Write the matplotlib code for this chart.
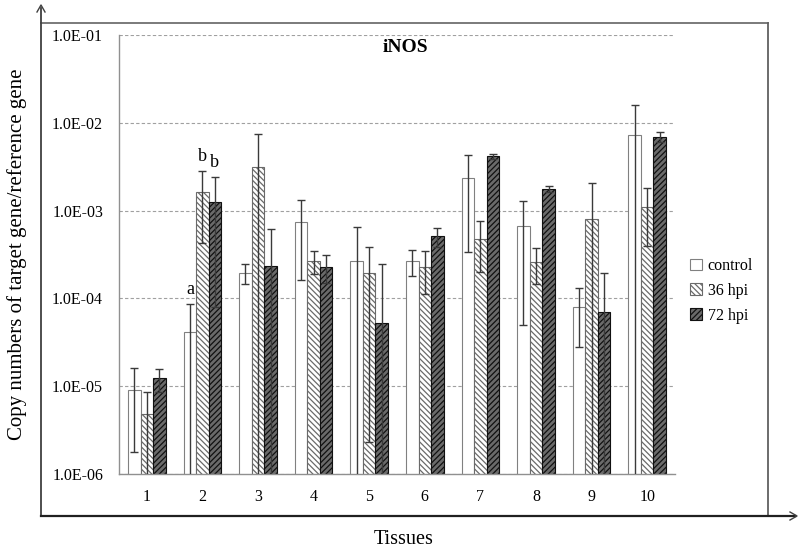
import matplotlib
matplotlib.use("Agg")
import matplotlib.pyplot as plt
import numpy as np
from matplotlib.lines import Line2D

plt.rcParams['font.family'] = ['Liberation Serif', 'DejaVu Serif']
plt.rcParams['hatch.linewidth'] = 0.9

tissues = ['1', '2', '3', '4', '5', '6', '7', '8', '9', '10']

control = [8.9e-6, 4.1e-5, 1.96e-4, 7.4e-4, 2.7e-4, 2.7e-4, 2.34e-3, 6.7e-4, 8.0e-5, 7.2e-3]
control_sd = [7.1e-6, 4.6e-5, 5.0e-5, 5.8e-4, 3.75e-4, 9.0e-5, 2.0e-3, 6.2e-4, 5.2e-5, 8.7e-3]

hpi36 = [4.7e-6, 1.64e-3, 3.1e-3, 2.68e-4, 1.96e-4, 2.3e-4, 4.8e-4, 2.63e-4, 8.0e-4, 1.1e-3]
hpi36_sd = [4.0e-6, 1.21e-3, 4.3e-3, 8.0e-5, 1.937e-4, 1.17e-4, 2.8e-4, 1.17e-4, 1.28e-3, 7.0e-4]

hpi72 = [1.22e-5, 1.26e-3, 2.34e-4, 2.3e-4, 5.25e-5, 5.1e-4, 4.17e-3, 1.76e-3, 7.0e-5, 6.9e-3]
hpi72_sd = [3.6e-6, 1.18e-3, 3.8e-4, 8.0e-5, 1.93e-4, 1.2e-4, 3.0e-4, 1.4e-4, 1.26e-4, 9.0e-4]

# significance letters: (tissue index, series index, letter)
letters = [(1, 0, 'a'), (1, 1, 'b'), (1, 2, 'b')]

fig = plt.figure(figsize=(8, 5.49), dpi=100)
ax = fig.add_axes([0.14875, 0.1366, 0.695, 0.7996])

x = np.arange(len(tissues))
w = 0.225
series = [
    ('control', control, control_sd, dict(facecolor='white', edgecolor='#808080', hatch=None)),
    ('36 hpi', hpi36, hpi36_sd, dict(facecolor='white', edgecolor='#6a6a6a', hatch='\\\\\\\\\\\\')),
    ('72 hpi', hpi72, hpi72_sd, dict(facecolor='#6a6a6a', edgecolor='#111111', hatch='//////')),
]

handles = []
for k, (name, vals, sd, st) in enumerate(series):
    pos = x + (k - 1) * w
    b = ax.bar(pos, vals, w, bottom=1e-7, linewidth=0.8, label=name, zorder=2, **st)
    handles.append(b)
    ax.errorbar(pos, vals, yerr=sd, fmt='none', ecolor='#3a3a3a', elinewidth=1,
                capsize=3, capthick=1, zorder=3)

all_vals = [control, hpi36, hpi72]
all_sd = [control_sd, hpi36_sd, hpi72_sd]
for ti, si, let in letters:
    top = all_vals[si][ti] + all_sd[si][ti]
    ax.annotate(let, xy=(x[ti] + (si - 1) * w, top), xytext=(0, 4),
                textcoords='offset points', ha='center', va='bottom', fontsize=13)

ax.set_yscale('log')
ax.set_ylim(1e-6, 1e-1)
ax.set_xlim(-0.5, 9.5)
ax.set_yticks([1e-6, 1e-5, 1e-4, 1e-3, 1e-2, 1e-1])
ax.set_yticklabels(['1.0E-06', '1.0E-05', '1.0E-04', '1.0E-03', '1.0E-02', '1.0E-01'])
ax.minorticks_off()
ax.set_xticks(x)
ax.set_xticklabels(tissues)
ax.tick_params(axis='x', length=0, pad=11, labelsize=11.5)
ax.tick_params(axis='y', length=0, pad=11.5, labelsize=11.5)
ax.yaxis.grid(True, linestyle=(0, (3, 2)), color='#a0a0a0', linewidth=0.8)
ax.set_axisbelow(True)
for s in ['top', 'right']:
    ax.spines[s].set_visible(False)
for s in ['left', 'bottom']:
    ax.spines[s].set_color('#909090')
    ax.spines[s].set_linewidth(1)

ax.text(0.515, 0.9727, 'iNOS', transform=ax.transAxes, ha='center', va='center',
        fontsize=14, fontweight='bold')

fig.legend(handles=handles, labels=[s[0] for s in series], loc='upper left',
           bbox_to_anchor=(690 / 800, 1 - 258 / 549), frameon=False, fontsize=11.5,
           handlelength=0.75, handleheight=0.75, handletextpad=0.35, labelspacing=0.55,
           borderaxespad=0, borderpad=0)

# outer frame with arrows
W, H = 800, 549
def fx(px):
    return px / W
def fy(py):
    return 1 - py / H

fig.add_artist(Line2D([fx(41), fx(768)], [fy(23), fy(23)], color='#707070', lw=1.3))
fig.add_artist(Line2D([fx(768), fx(768)], [fy(23), fy(516)], color='#606060', lw=1.3))
fig.add_artist(Line2D([fx(41), fx(41)], [fy(516), fy(8)], color='#404040', lw=1.3))
fig.add_artist(Line2D([fx(41), fx(795)], [fy(516), fy(516)], color='#202020', lw=1.6))
fig.add_artist(Line2D([fx(37), fx(41), fx(45)], [fy(12), fy(5), fy(12)], color='#404040', lw=1))
fig.add_artist(Line2D([fx(790), fx(797), fx(790)], [fy(512), fy(516), fy(520)], color='#404040', lw=1))

fig.text(fx(17), fy(254), 'Copy numbers of target gene/reference gene', rotation=90,
         ha='center', va='center', fontsize=15)
fig.text(fx(404), fy(540), 'Tissues', ha='center', va='center', fontsize=14.5)

fig.savefig('out.png', dpi=100)
